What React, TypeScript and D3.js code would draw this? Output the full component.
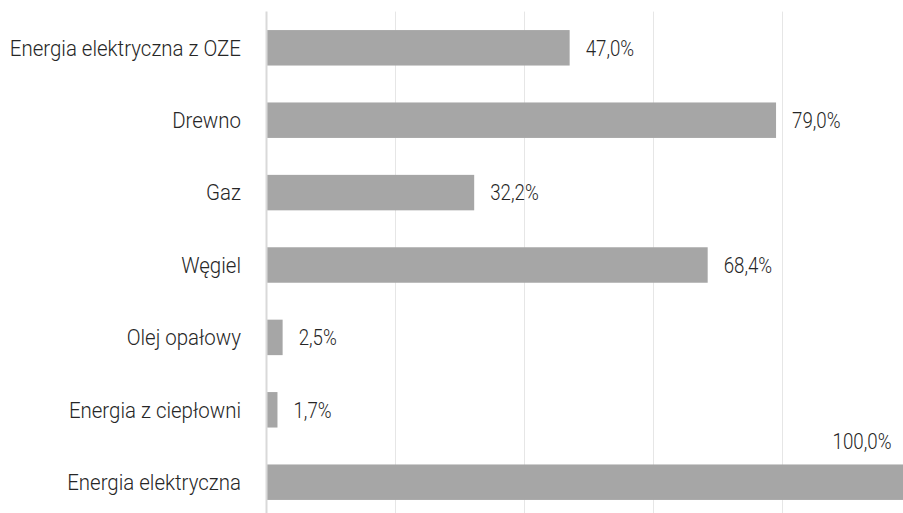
import React, { useEffect, useRef } from 'react';
import * as d3 from 'd3';

const categories = [
  'Energia elektryczna z OZE',
  'Drewno',
  'Gaz',
  'Węgiel',
  'Olej opałowy',
  'Energia z ciepłowni',
  'Energia elektryczna',
];
const values = [47.0, 79.0, 32.2, 68.4, 2.5, 1.7, 100.0];
const gridTicks = [0, 20, 40, 60, 80, 100];

const W = 903;
const H = 513;

export default function App() {
  const ref = useRef<SVGSVGElement | null>(null);

  useEffect(() => {
    const svg = d3.select(ref.current);
    svg.selectAll('*').remove();

    const x = d3.scaleLinear().domain([0, 100]).range([266.5, 911.5]);
    const y = d3.scaleBand<string>().domain(categories).range([11.6, 518.4]).padding(0.51).paddingOuter(0.255);

    // gridlines
    svg.append('g')
      .selectAll('line')
      .data(gridTicks.slice(1))
      .join('line')
      .attr('x1', d => x(d))
      .attr('x2', d => x(d))
      .attr('y1', 11.6)
      .attr('y2', H)
      .attr('stroke', '#e6e6e6')
      .attr('stroke-width', 1);

    const rows = categories.map((c, i) => ({ c, v: values[i] }));

    svg.append('g')
      .selectAll('rect')
      .data(rows)
      .join('rect')
      .attr('x', x(0))
      .attr('y', d => y(d.c)!)
      .attr('width', d => x(d.v) - x(0))
      .attr('height', y.bandwidth())
      .attr('fill', '#a6a6a6');

    // axis line
    svg.append('line')
      .attr('x1', x(0))
      .attr('x2', x(0))
      .attr('y1', 11.6)
      .attr('y2', H)
      .attr('stroke', '#d9d9d9')
      .attr('stroke-width', 2);

    const font = "Roboto, 'Noto Sans', sans-serif";
    const mid = (c: string) => y(c)! + y.bandwidth() / 2;

    // category labels (condensed look)
    svg.append('g')
      .selectAll('text')
      .data(rows)
      .join('text')
      .attr('transform', d => `translate(241,${mid(d.c)}) scale(0.93,1)`)
      .attr('dy', '0.35em')
      .attr('text-anchor', 'end')
      .style('font-family', font)
      .style('font-weight', 300)
      .style('font-size', '22px')
      .attr('fill', '#262626')
      .text(d => d.c);

    const fmt = (v: number) => v.toFixed(1).replace('.', ',') + '%';

    svg.append('g')
      .selectAll('text')
      .data(rows)
      .join('text')
      .attr('transform', d =>
        d.v >= 100
          ? `translate(${x(d.v) - 20},${y(d.c)! - 23}) scale(0.85,1)`
          : `translate(${x(d.v) + 16},${mid(d.c)}) scale(0.85,1)`)
      .attr('dy', '0.35em')
      .attr('text-anchor', d => (d.v >= 100 ? 'end' : 'start'))
      .style('font-family', font)
      .style('font-weight', 300)
      .style('font-size', '22px')
      .attr('fill', '#262626')
      .text(d => fmt(d.v));
  }, []);

  return (
    <svg
      ref={ref}
      width={W}
      height={H}
      style={{ position: 'absolute', left: 0, top: 0, background: '#fff' }}
    />
  );
}
